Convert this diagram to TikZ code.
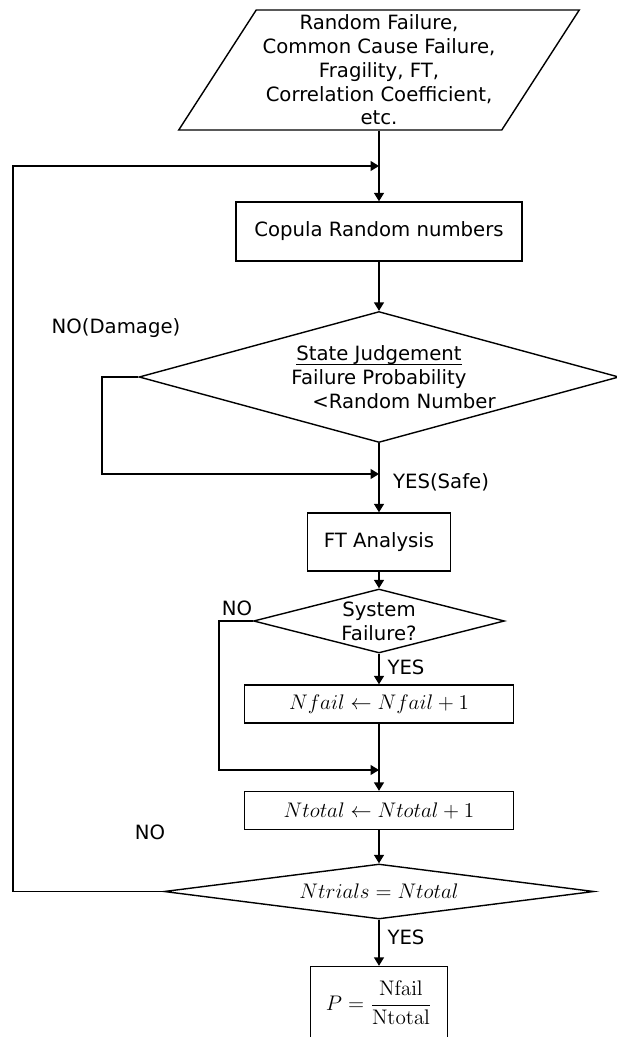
\documentclass[tikz,border=0pt]{standalone}
\usepackage[no-math]{fontspec}
\setmainfont{DejaVu Sans}
\usepackage{amsmath}
\usetikzlibrary{shapes.geometric,arrows.meta}
\newcommand{\ulinetext}[1]{\setbox0\hbox{#1}\rlap{\rule[-2.6pt]{\wd0}{0.7pt}}\box0}

\begin{document}
\begin{tikzpicture}[x=0.02cm, y=-0.02cm, line width=0.8pt, >={Triangle[length=1.7mm,width=2mm]},
  every node/.style={font=\fontsize{11.2}{13.5}\selectfont},
  proc/.style={draw, rectangle, inner sep=0pt},
  decide/.style={draw, diamond, inner sep=0pt},
  mathproc/.style={proc, font=\fontsize{12.5}{15}\selectfont}]

\useasboundingbox (0,0) rectangle (617,1037);

\node[draw, trapezium, trapezium left angle=56.3, trapezium right angle=123.7, trapezium stretches=true, minimum width=8.02cm, minimum height=2.4cm, inner sep=0pt, align=center] (data) at (379,70) {Random Failure,\\Common Cause Failure,\\Fragility, FT,\\Correlation Coefficient,\\etc.};
\node[proc, minimum width=5.72cm, minimum height=1.18cm] (copula) at (379,231.5) {Copula Random numbers};
\node[decide, minimum width=9.6cm, minimum height=2.62cm, label={[align=center]center:\ulinetext{State Judgement}\\Failure Probability\\\hspace*{1cm}<Random Number}] (judge) at (379,377) {};
\node[proc, minimum width=2.86cm, minimum height=1.16cm] (ft) at (379,542) {FT Analysis};
\node[decide, minimum width=5.02cm, minimum height=1.28cm, label={[align=center]center:System\\Failure?}] (sys) at (379,621) {};
\node[mathproc, minimum width=5.38cm, minimum height=0.76cm] (nfail) at (379,704) {$Nfail \leftarrow Nfail + 1$};
\node[mathproc, minimum width=5.38cm, minimum height=0.76cm] (ntotal) at (379,810.5) {$Ntotal \leftarrow Ntotal + 1$};
\node[decide, minimum width=8.6cm, minimum height=1.1cm, label={[font=\fontsize{12.5}{15}\selectfont]center:$Ntrials = Ntotal$}] (stop) at (379,891.5) {};
\node[mathproc, minimum width=2.74cm, minimum height=1.46cm] (result) at (379,1003) {$P = \dfrac{\mathrm{Nfail}}{\mathrm{Ntotal}}$};

\node (damage) at (116,328) {NO(Damage)};
\node (safe) at (441,482) {YES(Safe)};
\node (sysno) at (237,608) {NO};
\node (sysyes) at (406,667) {YES};
\node (loopno) at (150,832) {NO};
\node (loopyes) at (406,937) {YES};

\coordinate (back) at (13,166);
\coordinate (undamaged) at (102,474);
\coordinate (nofail) at (219,770);

\draw[->] (copula.north |- data.south) -- (copula.north);
\draw[->] (copula) -- (judge);
\draw[->] (judge) -- (ft);
\draw[->] (judge.west) -| (undamaged) -- (ft.north |- undamaged);
\draw[->] (ft) -- (sys);
\draw[->] (sys) -- (nfail);
\draw[->] (sys.west) -| (nofail) -- (ntotal.north |- nofail);
\draw[->] (nfail) -- (ntotal);
\draw[->] (ntotal) -- (stop);
\draw[->] (stop) -- (result);
\draw[->] (stop.west) -| (back) -- (copula.north |- back);
\end{tikzpicture}
\end{document}
